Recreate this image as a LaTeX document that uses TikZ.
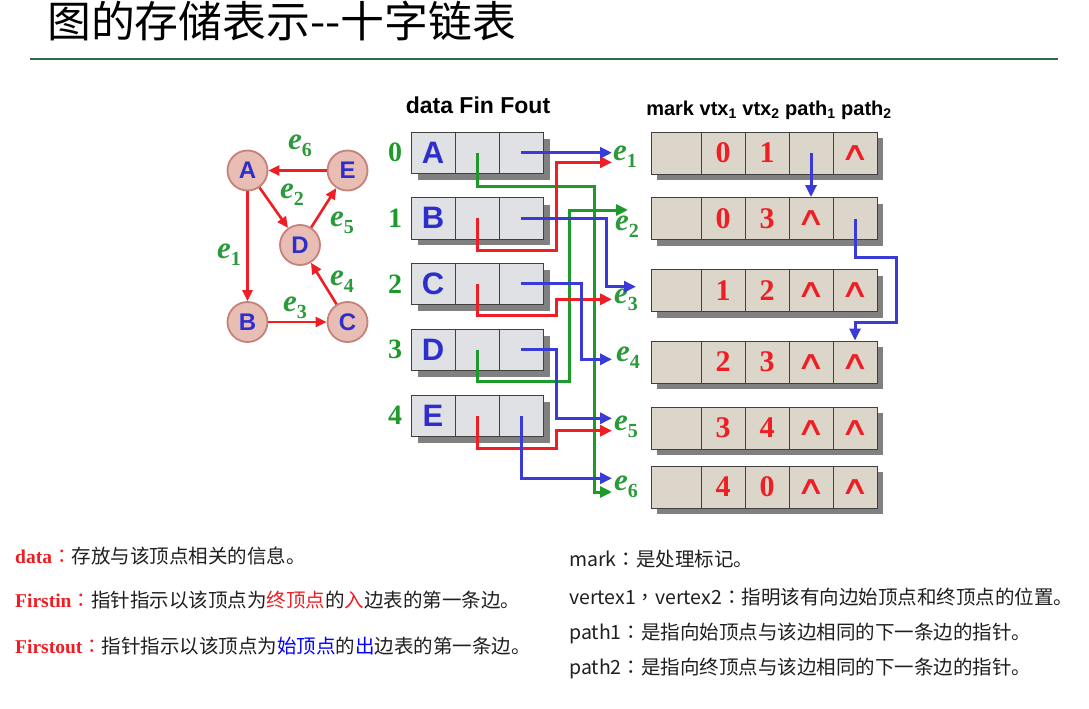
\documentclass[tikz,border=0pt]{standalone}
\usepackage{fontspec}
\setmainfont{Liberation Serif}
\newfontfamily\cjk{Noto Sans CJK SC}
\newfontfamily\cjktc{Noto Sans CJK TC}
\newfontfamily\arialf{Liberation Sans}
\newfontfamily\tnr{Liberation Serif}
\newfontfamily\djv{DejaVu Sans}
\usetikzlibrary{arrows.meta}
\definecolor{vblue}{HTML}{2E2ECC}
\definecolor{ablue}{HTML}{3A3AD6}
\definecolor{ared}{HTML}{EE1E24}
\definecolor{agreen}{HTML}{1E9A2A}
\definecolor{lgreen}{HTML}{2A9A3A}
\definecolor{nfill}{HTML}{E8BDB4}
\definecolor{nborder}{HTML}{C4827A}
\definecolor{vcell}{HTML}{DFE1E4}
\definecolor{ecell}{HTML}{DCD5CA}
\definecolor{shadowc}{HTML}{808080}
\definecolor{rulec}{HTML}{2E6B46}
\newcommand{\andsym}{{\djv\mdseries\fontsize{27}{27}\selectfont\scalebox{1.5}[0.95]{∧}}}
\newcommand{\elab}[1]{{\tnr\bfseries\itshape e}\raisebox{-7pt}{\tnr\bfseries\fontsize{20}{20}\selectfont #1}}
\newcommand{\fcolon}{{\cjktc ：}}
\newcommand{\fcomma}{{\cjktc ，}}
\tikzset{
  gv/.style={circle, draw=nborder, line width=1.8pt, fill=nfill, minimum size=40pt, inner sep=0pt,
    font=\arialf\bfseries\fontsize{24}{24}\selectfont, text=vblue},
  gedge/.style={draw=ared, line width=2.6pt, -{Triangle[length=11pt,width=10pt]}},
  glab/.style={text=lgreen, inner sep=0pt, font=\fontsize{31}{31}\selectfont},
  elabst/.style={text=lgreen, inner sep=0pt, anchor=west, font=\fontsize{31}{31}\selectfont},
  vcellst/.style={draw=black!75, fill=vcell, minimum width=44pt, minimum height=41.5pt, inner sep=0pt,
    line width=0.9pt, font=\arialf\bfseries\fontsize{31}{31}\selectfont, text=vblue},
  ecellst/.style={draw=black!75, fill=ecell, minimum width=44pt, minimum height=42pt, inner sep=0pt,
    line width=0.9pt, font=\tnr\bfseries\fontsize{30}{30}\selectfont, text=ared},
  idx/.style={text=agreen, inner sep=0pt, font=\tnr\bfseries\fontsize{28}{28}\selectfont},
  hdr/.style={inner sep=0pt, font=\arialf\bfseries\fontsize{23}{23}\selectfont},
  ptr/.style={line width=3pt, -{Triangle[length=12pt,width=11pt]}},
  ptrb/.style={ptr, draw=ablue},
  ptrr/.style={ptr, draw=ared},
  ptrg/.style={ptr, draw=agreen},
  note/.style={anchor=west, inner sep=0pt, font=\cjk\fontsize{19.5}{22}\selectfont, text=black!88},
}
\begin{document}
\begin{tikzpicture}[x=1pt,y=-1pt]
\fill[white] (0,0) rectangle (1089,709);
\useasboundingbox (0,0) rectangle (1089,709);

% title
\node[anchor=west, inner sep=0pt, font=\cjk\fontsize{43}{43}\selectfont] (title) at (47,21)
  {\scalebox{1.02}[1]{图的存储表示--十字链表}};
\draw[rulec, line width=1.6pt] (30,59) -- (1058,59);

% graph
\node[gv] (A) at (247.5,170.5) {A};
\node[gv] (E) at (347.5,170.5) {E};
\node[gv] (D) at (300,245) {D};
\node[gv] (B) at (247.5,322) {B};
\node[gv] (C) at (347.5,322) {C};
\draw[gedge] (A) -- (B);
\draw[gedge] (A) -- (D);
\draw[gedge] (B) -- (C);
\draw[gedge] (C) -- (D);
\draw[gedge] (D) -- (E);
\draw[gedge] (E) -- (A);
\node[glab] (g6) at (300,146) {\elab{6}};
\node[glab] (g2) at (292,195) {\elab{2}};
\node[glab] (g5) at (342,223) {\elab{5}};
\node[glab] (g1) at (229,255) {\elab{1}};
\node[glab] (g4) at (342,282) {\elab{4}};
\node[glab] (g3) at (295,308) {\elab{3}};

% headers
\node[hdr] (h1) at (478,105) {data Fin Fout};
\node[hdr, font=\arialf\bfseries\fontsize{20}{20}\selectfont] (h2) at (769,110)
  {mark vtx\textsubscript{1} vtx\textsubscript{2} path\textsubscript{1} path\textsubscript{2}};

% vertex table
\foreach \i/\L/\c in {0/A/152.75,1/B/218.25,2/C/283.75,3/D/349.75,4/E/415.75}{
  \fill[shadowc] (418,\c-13.75) rectangle (550,\c+26.75);
  \node[vcellst] (vd\i) at (433,\c) {\L};
  \node[vcellst] (vi\i) at (477,\c) {};
  \node[vcellst] (vo\i) at (521,\c) {};
  \node[idx] (n\i) at (395,\c) {\i};
}

% edge table
\foreach \k/\c/\a/\b/\p/\q in {1/153/0/1/{}/\andsym, 2/218.5/0/3/\andsym/{}, 3/290.5/1/2/\andsym/\andsym,
    4/362/2/3/\andsym/\andsym, 5/428/3/4/\andsym/\andsym, 6/487/4/0/\andsym/\andsym}{
  \fill[shadowc] (657,\c-15) rectangle (883,\c+27);
  \node[ecellst, minimum width=50pt] (em\k) at (676,\c) {};
  \node[ecellst] (ea\k) at (723,\c) {\a};
  \node[ecellst] (eb\k) at (767,\c) {\b};
  \node[ecellst] (ep\k) at (811,\c) {\p};
  \node[ecellst] (eq\k) at (855,\c) {\q};
}

% edge labels
\node[elabst] (l1) at (613,157) {\elab{1}};
\node[elabst] (l2) at (615,227) {\elab{2}};
\node[elabst] (l3) at (614,300) {\elab{3}};
\node[elabst] (l4) at (616,358) {\elab{4}};
\node[elabst] (l5) at (614,427) {\elab{5}};
\node[elabst] (l6) at (614,487) {\elab{6}};

% pointer ends
\coordinate (t1b) at (612,152.75);
\coordinate (t1r) at (612,162.3);
\coordinate (t2g) at (628,210);
\coordinate (t3b) at (636,286.7);
\coordinate (t3r) at (612,299.3);
\coordinate (t4b) at (612,359.3);
\coordinate (t5b) at (612,418.3);
\coordinate (t5r) at (612,430.7);
\coordinate (t6b) at (612,478.3);
\coordinate (t6g) at (612,492);

% vertex pointers
\draw[ptrg] (vi0.center) |- (594,186) |- (t6g);
\draw[ptrg] (vi3.center) |- (569,381.7) |- (t2g);
\draw[ptrr] (vi1.center) |- (556.7,250.7) |- (t1r);
\draw[ptrr] (vi2.center) |- (556,315) |- (t3r);
\draw[ptrr] (vi4.center) |- (556,448.3) |- (t5r);
\draw[ptrb] (vo0.center) -- (t1b);
\draw[ptrb] (vo1.center) -| (606,286.7) -- (t3b);
\draw[ptrb] (vo2.center) -| (581.7,359.3) -- (t4b);
\draw[ptrb] (vo3.center) -| (556,418.3) -- (t5b);
\draw[ptrb] (vo4.center) |- (t6b);

% edge table pointers
\draw[ptrb] (ep1.center) -- (ep2.north);
\draw[ptrb] (eq2.center) |- (896.7,257.7) |- (855,322.7) -- (eq4.north);

% notes left
\node[note] (d1) at (15,556) {{\tnr\bfseries\color{ared}data}{\color{ared}\fcolon}存放与该顶点相关的信息。};
\node[note] (d2) at (15,600) {{\tnr\bfseries\color{ared}Firstin}{\color{ared}\fcolon}指针指示以该顶点为{\color{ared}终顶点}的{\color{ared}入}边表的第一条边。};
\node[note] (d3) at (15,646) {{\tnr\bfseries\color{ared}Firstout}{\color{ared}\fcolon}指针指示以该顶点为{\color{blue}始顶点}的{\color{blue}出}边表的第一条边。};

% notes right
\node[note] (r1) at (569,559) {mark\fcolon 是处理标记。};
\node[note] (r2) at (569,597) {vertex1\fcomma vertex2\fcolon 指明该有向边始顶点和终顶点的位置。};
\node[note] (r3) at (569,633) {path1\fcolon 是指向始顶点与该边相同的下一条边的指针。};
\node[note] (r4) at (569,668) {path2\fcolon 是指向终顶点与该边相同的下一条边的指针。};
\end{tikzpicture}
\end{document}
